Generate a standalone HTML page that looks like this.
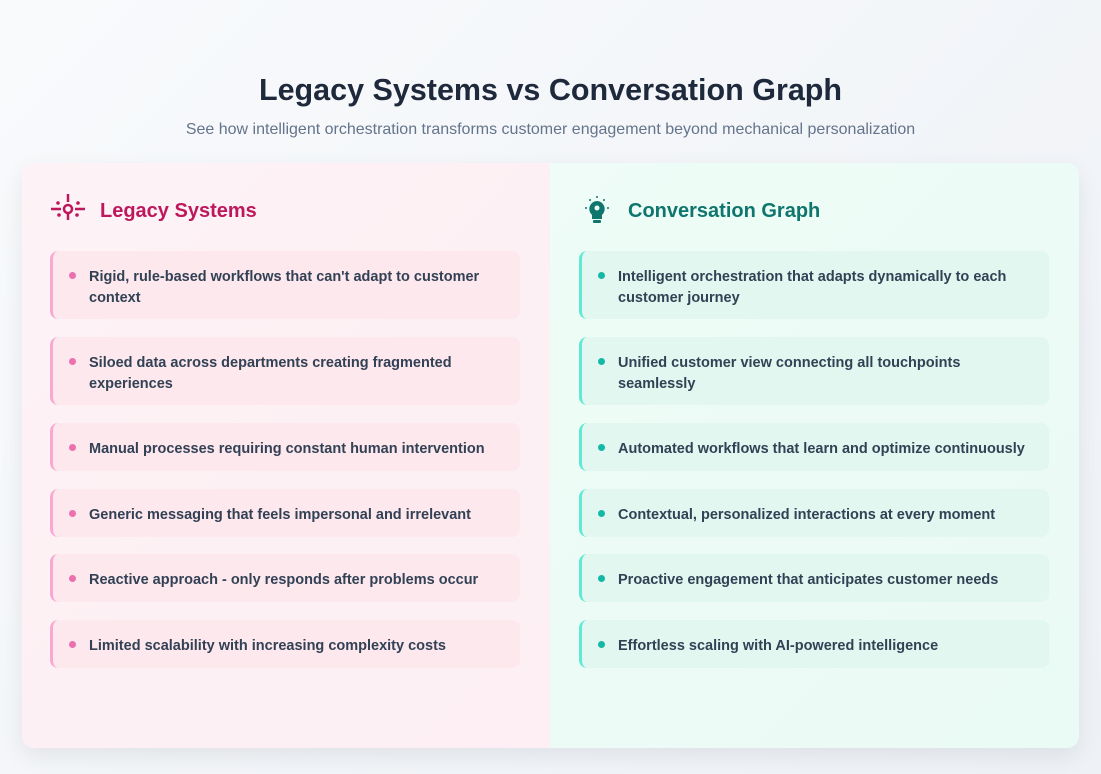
<!DOCTYPE html>
<html><head><meta charset="utf-8"><style>
*{margin:0;padding:0;box-sizing:border-box}
body{width:1101px;height:774px;background:linear-gradient(135deg,#f8fafc,#eef1f6);font-family:"Liberation Sans",sans-serif;position:relative;overflow:hidden}
h1{position:absolute;top:73px;left:0;width:1101px;text-align:center;font-size:30.5px;font-weight:bold;color:#1e293b}
.sub{position:absolute;top:121px;left:0;width:1101px;text-align:center;font-size:16px;color:#64748b}
.box{position:absolute;left:22px;top:163px;width:1057px;height:585px;border-radius:12px;overflow:hidden;box-shadow:0 8px 24px rgba(0,0,0,.08);display:flex}
.col{width:528px;height:100%;position:relative}
.l{background:linear-gradient(135deg,#fdf2f5,#fdeff4)}
.r{width:529px;background:linear-gradient(135deg,#effcf7,#eafaf4)}
.hd{position:absolute;top:200px;font-size:20px;font-weight:bold}
.card{position:absolute;width:470px;border-radius:8px;font-size:14.5px;font-weight:bold;color:#334155;line-height:21px;padding:16px 20px 0 36px}
.card:before{content:"";position:absolute;left:16px;top:21px;width:7px;height:7px;border-radius:50%}
.pl{left:50px;background:#fce8ed;border-left:3px solid #f9a8d4}
.pl:before{background:#ec6fae}
.pr{left:579px;background:#e1f7f0;border-left:3px solid #5eead4}
.pr:before{background:#14b8a6}
</style></head><body>
<h1>Legacy Systems vs Conversation Graph</h1>
<div class="sub">See how intelligent orchestration transforms customer engagement beyond mechanical personalization</div>
<div class="box"><div class="col l"></div><div class="col r"></div></div>
<svg style="position:absolute;left:50px;top:194px" width="36" height="32" viewBox="0 0 36 32" fill="#be185d" stroke="#be185d">
<line x1="18" y1="0" x2="18" y2="8" stroke-width="2.5"/><circle cx="18" cy="15" r="4" fill="none" stroke-width="2.5"/>
<line x1="1" y1="15" x2="11" y2="15" stroke-width="2.5"/><line x1="25" y1="15" x2="35" y2="15" stroke-width="2.5"/>
<line x1="18" y1="19" x2="18" y2="26" stroke-width="2.5"/><circle cx="8" cy="9" r="1.3"/><circle cx="28" cy="9" r="1.3"/><circle cx="9" cy="21" r="1.3"/><circle cx="27" cy="21" r="1.3"/></svg>
<div class="hd" style="left:100px;color:#be185d">Legacy Systems</div>
<svg style="position:absolute;left:582px;top:196px" width="30" height="30" viewBox="0 0 30 30" fill="#0f766e">
<path d="M15 5a8 8 0 0 0-5 14v4h10v-4a8 8 0 0 0-5-14z"/><circle cx="15" cy="12" r="2.5" fill="#effcf7"/><rect x="11" y="24" width="8" height="3" rx="1"/>
<circle cx="4" cy="12" r="1"/><circle cx="26" cy="12" r="1"/><circle cx="8" cy="4" r="1"/><circle cx="22" cy="4" r="1"/><circle cx="15" cy="1" r="1"/></svg>
<div class="hd" style="left:628px;color:#0f766e">Conversation Graph</div>

<div class="card pl" style="top:251px;height:68px">Rigid, rule-based workflows that can't adapt to customer context</div>
<div class="card pl" style="top:337px;height:68px">Siloed data across departments creating fragmented experiences</div>
<div class="card pl" style="top:423px;height:48px">Manual processes requiring constant human intervention</div>
<div class="card pl" style="top:489px;height:48px">Generic messaging that feels impersonal and irrelevant</div>
<div class="card pl" style="top:554px;height:48px">Reactive approach - only responds after problems occur</div>
<div class="card pl" style="top:620px;height:48px">Limited scalability with increasing complexity costs</div>

<div class="card pr" style="top:251px;height:68px">Intelligent orchestration that adapts dynamically to each customer journey</div>
<div class="card pr" style="top:337px;height:68px">Unified customer view connecting all touchpoints seamlessly</div>
<div class="card pr" style="top:423px;height:48px">Automated workflows that learn and optimize continuously</div>
<div class="card pr" style="top:489px;height:48px">Contextual, personalized interactions at every moment</div>
<div class="card pr" style="top:554px;height:48px">Proactive engagement that anticipates customer needs</div>
<div class="card pr" style="top:620px;height:48px">Effortless scaling with AI-powered intelligence</div>
</body></html>
